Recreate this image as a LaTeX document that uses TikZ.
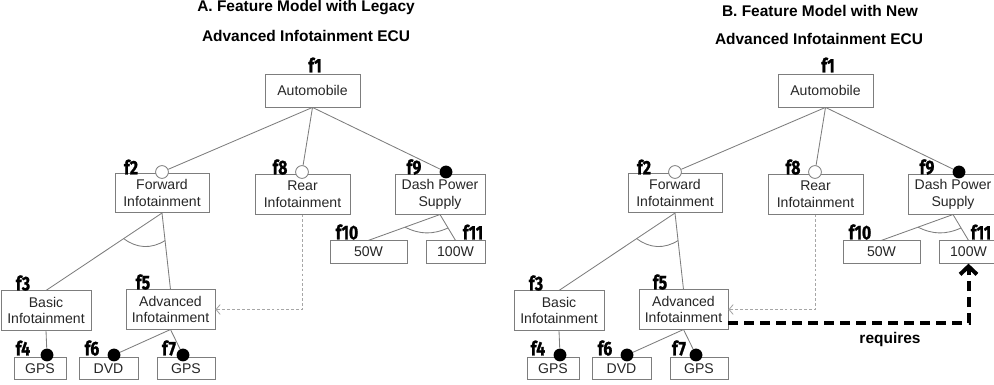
\documentclass[tikz,border=0pt]{standalone}
\usepackage{fontspec}
\setmainfont{Liberation Sans}
\newfontfamily\flabfont[FakeStretch=0.8, BoldFeatures={FakeBold=1.2}]{Fira Sans}
\usepackage{tikz}
\usetikzlibrary{arrows.meta, calc}

\definecolor{boxgray}{RGB}{125,125,125}

\tikzset{
	feat/.style={shape=rectangle, draw=boxgray, line width=0.6pt, inner sep=0pt, align=center, minimum height=0.98cm, text=black!85, font=\fontsize{10}{12}\selectfont},
	leaf/.style={feat, minimum height=0.56cm},
	flab/.style={inner sep=0pt, font=\flabfont\bfseries\fontsize{14}{14}\selectfont},
	optc/.style={shape=circle, draw=boxgray, fill=white, line width=0.6pt, minimum size=0.32cm, inner sep=0pt},
	mandc/.style={shape=circle, fill=black, minimum size=0.32cm, inner sep=0pt},
	tree/.style={draw=boxgray, line width=0.6pt},
	ttl/.style={font=\bfseries\fontsize{11}{13}\selectfont},
	impl/.style={draw=gray!70, line width=0.6pt, dash pattern=on 2pt off 1.5pt, -{Straight Barb[length=3pt, width=7pt]}},
	requires/.style={line width=0.1cm, dash pattern=on 0.25cm off 0.15cm, -{Straight Barb[length=0.2cm, width=0.42cm]}}
}

\begin{document}
\begin{tikzpicture}[x=0.025cm, y=-0.025cm]
			\useasboundingbox (0, 0) rectangle (994, 385);
			% Titles:
			\node[ttl](A-t1) at (306, 8){A. Feature Model with Legacy};
			\node[ttl](A-t2) at (306, 36){Advanced Infotainment ECU};
			\node[ttl](B-t1) at (820, 11){B. Feature Model with New};
			\node[ttl](B-t2) at (819, 39){Advanced Infotainment ECU};
			% Panel A, features:
			\node[feat, minimum width=2.375cm, minimum height=0.825cm](A-auto) at (312.5, 90.5){Automobile};
			\node[feat, minimum width=2.35cm](A-fwd) at (162, 193){Forward\\Infotainment};
			\node[feat, minimum width=2.375cm](A-rear) at (302.5, 194.5){Rear\\Infotainment};
			\node[feat, minimum width=2.25cm](A-dash) at (440, 194.5){Dash Power\\Supply};
			\node[leaf, minimum width=1.925cm](A-w50) at (368.5, 252){50W};
			\node[leaf, minimum width=1.475cm](A-w100) at (455.5, 252){100W};
			\node[feat, minimum width=2.25cm](A-basic) at (46, 310.5){Basic\\Infotainment};
			\node[feat, minimum width=2.225cm](A-adv) at (170.5, 309.5){Advanced\\Infotainment};
			\node[leaf, minimum width=1.3cm](A-gps1) at (40, 368.5){GPS};
			\node[leaf, minimum width=1.475cm](A-dvd) at (108.5, 368.5){DVD};
			\node[leaf, minimum width=1.45cm](A-gps2) at (186, 368.5){GPS};
			% Panel A, circles and wires:
			\node[optc](A-c2) at (162, 172){};
			\node[optc](A-c8) at (302, 172){};
			\node[mandc](A-c9) at (446, 172){};
			\node[mandc](A-c4) at (47, 355){};
			\node[mandc](A-c6) at (114, 355){};
			\node[mandc](A-c7) at (183, 355){};
			\draw[tree] (A-auto.south) -- (A-c2);
			\draw[tree] (A-auto.south) -- (A-c8);
			\draw[tree] (A-auto.south) -- (A-c9);
			\draw[tree] (A-fwd.south) -- (A-basic.north);
			\draw[tree] (A-fwd.south) -- (A-adv.north);
			\draw[tree] ($(A-fwd.south)!0.33!(A-basic.north)$) to[bend right=35] ($(A-fwd.south)!0.36!(A-adv.north)$);
			\draw[tree] (A-dash.south) -- (A-w50.north);
			\draw[tree] (A-dash.south) -- (A-w100.north);
			\draw[tree] ($(A-dash.south)!0.49!(A-w50.north)$) to[bend right=25] ($(A-dash.south)!0.52!(A-w100.north)$);
			\draw[tree] (A-basic.south) -- (A-c4);
			\draw[tree] (A-adv.south) -- (A-c6);
			\draw[tree] (A-adv.south) -- (A-c7);
			\draw[impl] (A-rear.south) |- (A-adv.east);
			% Panel A, labels:
			\node[flab](A-f1) at (315, 65){f1};
			\node[flab](A-f2) at (131, 167){f2};
			\node[flab](A-f8) at (280, 167){f8};
			\node[flab](A-f9) at (414, 167){f9};
			\node[flab](A-f10) at (347, 232){f10};
			\node[flab](A-f11) at (473, 232){f11};
			\node[flab](A-f3) at (23, 283){f3};
			\node[flab](A-f5) at (143, 282){f5};
			\node[flab](A-f4) at (23, 348){f4};
			\node[flab](A-f6) at (92, 348){f6};
			\node[flab](A-f7) at (169, 348){f7};
			% Panel B, features:
			\node[feat, minimum width=2.375cm, minimum height=0.825cm](B-auto) at (825.5, 90.5){Automobile};
			\node[feat, minimum width=2.35cm](B-fwd) at (675, 193){Forward\\Infotainment};
			\node[feat, minimum width=2.375cm](B-rear) at (815.5, 194.5){Rear\\Infotainment};
			\node[feat, minimum width=2.25cm](B-dash) at (953, 194.5){Dash Power\\Supply};
			\node[leaf, minimum width=1.925cm](B-w50) at (881.5, 252){50W};
			\node[leaf, minimum width=1.475cm](B-w100) at (968.5, 252){100W};
			\node[feat, minimum width=2.25cm](B-basic) at (559, 310.5){Basic\\Infotainment};
			\node[feat, minimum width=2.225cm](B-adv) at (683.5, 309.5){Advanced\\Infotainment};
			\node[leaf, minimum width=1.3cm](B-gps1) at (553, 368.5){GPS};
			\node[leaf, minimum width=1.475cm](B-dvd) at (621.5, 368.5){DVD};
			\node[leaf, minimum width=1.45cm](B-gps2) at (699, 368.5){GPS};
			% Panel B, circles and wires:
			\node[optc](B-c2) at (675, 172){};
			\node[optc](B-c8) at (815, 172){};
			\node[mandc](B-c9) at (959, 172){};
			\node[mandc](B-c4) at (560, 355){};
			\node[mandc](B-c6) at (627, 355){};
			\node[mandc](B-c7) at (696, 355){};
			\draw[tree] (B-auto.south) -- (B-c2);
			\draw[tree] (B-auto.south) -- (B-c8);
			\draw[tree] (B-auto.south) -- (B-c9);
			\draw[tree] (B-fwd.south) -- (B-basic.north);
			\draw[tree] (B-fwd.south) -- (B-adv.north);
			\draw[tree] ($(B-fwd.south)!0.33!(B-basic.north)$) to[bend right=35] ($(B-fwd.south)!0.36!(B-adv.north)$);
			\draw[tree] (B-dash.south) -- (B-w50.north);
			\draw[tree] (B-dash.south) -- (B-w100.north);
			\draw[tree] ($(B-dash.south)!0.49!(B-w50.north)$) to[bend right=25] ($(B-dash.south)!0.52!(B-w100.north)$);
			\draw[tree] (B-basic.south) -- (B-c4);
			\draw[tree] (B-adv.south) -- (B-c6);
			\draw[tree] (B-adv.south) -- (B-c7);
			\draw[impl] (B-rear.south) |- (B-adv.east);
			\draw[requires] ([yshift=-0.34cm]B-adv.east) -| (B-w100.south);
			\node[font=\bfseries\fontsize{11}{13}\selectfont](B-req) at (890, 340){requires};
			% Panel B, labels:
			\node[flab](B-f1) at (828, 65){f1};
			\node[flab](B-f2) at (644, 167){f2};
			\node[flab](B-f8) at (793, 167){f8};
			\node[flab](B-f9) at (927, 167){f9};
			\node[flab](B-f10) at (860, 232){f10};
			\node[flab](B-f11) at (981, 232){f11};
			\node[flab](B-f3) at (536, 283){f3};
			\node[flab](B-f5) at (660, 282){f5};
			\node[flab](B-f4) at (538, 348){f4};
			\node[flab](B-f6) at (605, 348){f6};
			\node[flab](B-f7) at (679, 348){f7};
		\end{tikzpicture}
\end{document}
